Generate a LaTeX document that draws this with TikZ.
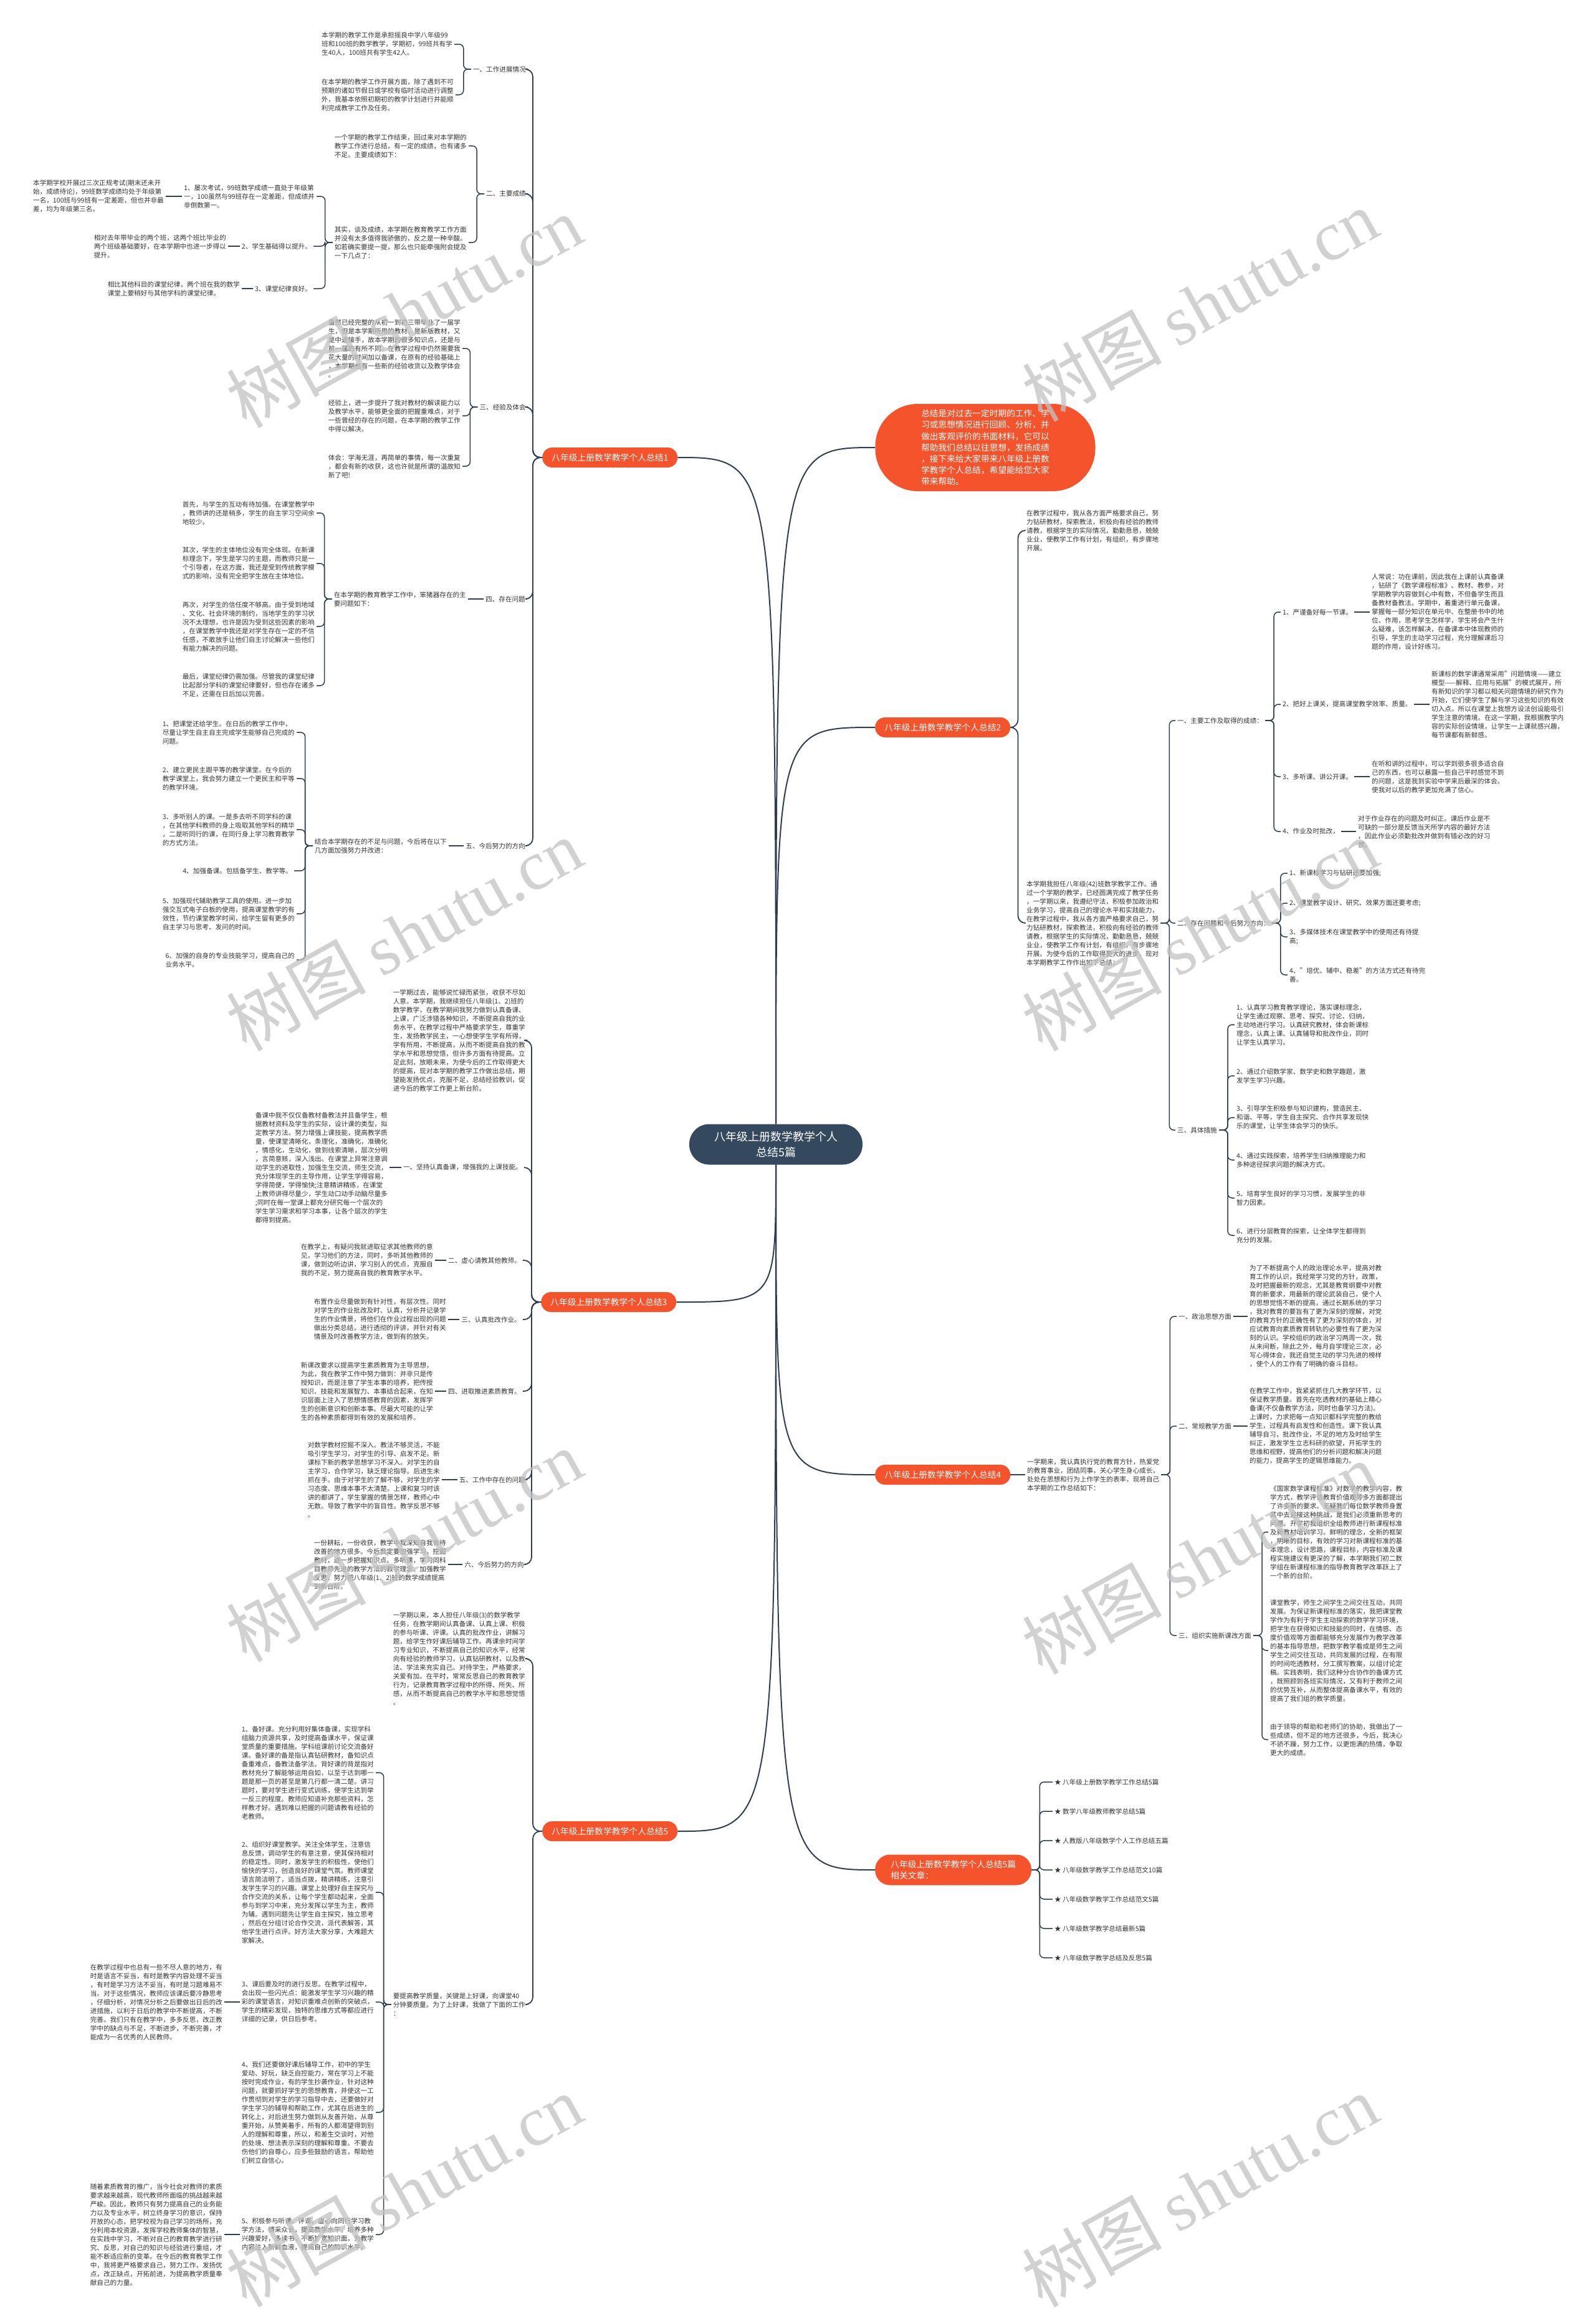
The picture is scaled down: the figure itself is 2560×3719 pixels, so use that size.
\documentclass[tikz,border=0pt]{standalone}
\usepackage{fontspec}
\setmainfont{Noto Sans CJK SC}
\newfontfamily\wmserif{Liberation Serif}
\usetikzlibrary{calc}
\definecolor{linec}{HTML}{2C3E50}
\definecolor{orangec}{HTML}{F4532B}
\definecolor{darkc}{HTML}{34495E}
\definecolor{textc}{HTML}{333333}
\definecolor{wmc}{HTML}{C2C2C2}
\tikzset{
 conn/.style={draw=linec, line width=1.5pt, rounded corners=7pt},
 trunk/.style={draw=linec, line width=1.8pt, rounded corners=12pt},
 mainc/.style={draw=linec, line width=2pt},
 txt/.style={font=\fontsize{10.6}{14}\selectfont, text=textc, align=left, inner xsep=3pt, inner ysep=1pt},
 leftbox/.style={txt, anchor=east},
 rightbox/.style={txt, anchor=west},
 branch/.style={fill=orangec, text=white, font=\fontsize{13.8}{18}\selectfont, align=left, inner xsep=15pt, inner ysep=0pt, minimum height=32pt, rounded corners=16pt, anchor=west},
 wm/.style={text=wmc, text opacity=0.75, font=\fontsize{112}{112}\selectfont, rotate=29, inner sep=0pt}
}
\begin{document}
\begin{tikzpicture}[x=1pt,y=-1pt]
\fill[white] (0,0) rectangle (2560,3719);
\useasboundingbox (0,0) rectangle (2560,3719);

% ---------- center, intro, branches ----------
\node[fill=darkc, text=white, font=\fontsize{18}{25}\selectfont, align=center, minimum width=278pt, minimum height=65pt, rounded corners=32pt, inner sep=0pt] (c0) at (1245,1836) {八年级上册数学教学个人\\总结5篇};
\node[fill=orangec, text=white, font=\fontsize{13.7}{18.2}\selectfont, align=left, minimum width=353pt, minimum height=140pt, rounded corners=68pt, inner sep=0pt] (intro) at (1581,718) {总结是对过去一定时期的工作、学\\习或思想情况进行回顾、分析，并\\做出客观评价的书面材料，它可以\\帮助我们总结以往思想，发扬成绩\\，接下来给大家带来八年级上册数\\学教学个人总结，希望能给您大家\\带来帮助。};
\node[branch] (b1) at (870,734) {八年级上册数学教学个人总结1};
\node[branch] (b3) at (868,2089) {八年级上册数学教学个人总结3};
\node[branch] (b5) at (870,2938) {八年级上册数学教学个人总结5};
\node[branch] (b2) at (1404,1167) {八年级上册数学教学个人总结2};
\node[branch] (b4) at (1404,2366) {八年级上册数学教学个人总结4};
\node[branch, minimum height=49pt, inner xsep=25pt, rounded corners=24pt] (b6) at (1404,3000) {八年级上册数学教学个人总结5篇\\相关文章：};

\draw[mainc] (c0.north) .. controls (1245,734) .. (b1.east);
\draw[mainc] (c0.north) .. controls (1245,718) .. (intro.west);
\draw[mainc] (c0.north) .. controls (1245,1167) .. (b2.west);
\draw[mainc] (c0.south) .. controls (1245,2089) .. (b3.east);
\draw[mainc] (c0.south) .. controls (1245,2366) .. (b4.west);
\draw[mainc] (c0.south) .. controls (1245,2938) .. (b5.east);
\draw[mainc] (c0.south) .. controls (1245,3000) .. (b6.west);

% ---------- branch 1 ----------
\node[leftbox] (h1) at (847,111) {一、工作进展情况};
\node[leftbox] (t1) at (729,71) {本学期的教学工作是承担摇良中学八年级99\\班和100班的数学教学，学期初，99班共有学\\生40人，100班共有学生42人。};
\node[leftbox] (t2) at (731,152) {在本学期的教学工作开展方面，除了遇到不可\\预期的诸如节假日或学校有临时活动进行调整\\外，我基本依照初期初的教学计划进行并能顺\\利完成教学工作及任务。};
\node[leftbox] (h2) at (847,311) {二、主要成绩};
\node[leftbox] (t3) at (752,234) {一个学期的教学工作结束，回过来对本学期的\\教学工作进行总结，有一定的成绩，也有诸多\\不足。主要成绩如下：};
\node[leftbox] (t4) at (752,389) {其实，谈及成绩，本学期在教育教学工作方面\\并没有太多值得我骄傲的，反之是一种辛酸。\\如若确实要提一提，那么也只能牵强附会提及\\一下几点了：};
\node[leftbox] (t4a) at (508,315) {1、屡次考试，99班数学成绩一直处于年级第\\一，100虽然与99班存在一定差距，但成绩并\\非倒数第一。};
\node[leftbox] (t4a1) at (266,315) {本学期学校开展过三次正规考试(期末还未开\\始，成绩待论)，99班数学成绩均处于年级第\\一名，100班与99班有一定差距，但也并非最\\差，均为年级第三名。};
\node[leftbox] (t4b) at (503,395) {2、学生基础得以提升。};
\node[leftbox] (t4b1) at (366,395) {相对去年带毕业的两个班，这两个班比毕业的\\两个班级基础要好，在本学期中也进一步得以\\提升。};
\node[leftbox] (t4c) at (503,463) {3、课堂纪律良好。};
\node[leftbox] (t4c1) at (388,463) {相比其他科目的课堂纪律，两个班在我的数学\\课堂上要稍好与其他学科的课堂纪律。};
\node[leftbox] (h3) at (847,653) {三、经验及体会};
\node[leftbox] (t5) at (742,559) {虽然已经完整的从初一到初三带毕业了一届学\\生，但是本学期所用的教材，是新版教材，又\\是中途接手，故本学期的很多知识点，还是与\\前一届的有所不同。在教学过程中仍然需要我\\花大量的时间加以备课，在原有的经验基础上\\，本学期也有一些新的经验收货以及教学体会\\。};
\node[leftbox] (t6) at (742,667) {经验上，进一步提升了我对教材的解读能力以\\及教学水平，能够更全面的把握重难点，对于\\一些曾经的存在的问题，在本学期的教学工作\\中得以解决。};
\node[leftbox] (t7) at (742,748) {体会：学海无涯，再简单的事情，每一次重复\\，都会有新的收获，这也许就是所谓的温故知\\新了吧!};
\node[leftbox] (h4) at (846,961) {四、存在问题};
\node[leftbox] (t8) at (751,961) {在本学期的教育教学工作中，笨猪器存在的主\\要问题如下：};
\node[leftbox] (t8a) at (508,823) {首先，与学生的互动有待加强。在课堂教学中\\，教师讲的还是稍多，学生的自主学习空间余\\地较少。};
\node[leftbox] (t8b) at (508,904) {其次，学生的主体地位没有完全体现。在新课\\标理念下，学生是学习的主题，而教师只是一\\个引导者，在这方面，我还是受到传统教学模\\式的影响，没有完全把学生放在主体地位。};
\node[leftbox] (t8c) at (508,1005) {再次，对学生的信任度不够高。由于受到地域\\、文化、社会环境的制约，当地学生的学习状\\况不太理想，也许是因为受到这些因素的影响\\，在课堂教学中我还是对学生存在一定的不信\\任感，不敢放手让他们自主讨论解决一些他们\\有能力解决的问题。};
\node[leftbox] (t8d) at (508,1100) {最后，课堂纪律仍需加强。尽管我的课堂纪律\\比起部分学科的课堂纪律要好，但也存在诸多\\不足，还需在日后加以完善。};
\node[leftbox] (h5) at (846,1357) {五、今后努力的方向};
\node[leftbox] (t9) at (720,1357) {结合本学期存在的不足与问题，今后将在以下\\几方面加强努力并改进：};
\node[leftbox] (t9a) at (476,1175) {1、把课堂还给学生。在日后的教学工作中，\\尽量让学生自主自主完成学生能够自己完成的\\问题。};
\node[leftbox] (t9b) at (476,1249) {2、建立更民主跟平等的教学课堂。在今后的\\教学课堂上，我会努力建立一个更民主和平等\\的教学环境。};
\node[leftbox] (t9c) at (476,1331) {3、多听别人的课。一是多去听不同学科的课\\，在其他学科教师的身上吸取其他学科的精华\\，二是听同行的课，在同行身上学习教育教学\\的方式方法。};
\node[leftbox] (t9d) at (472,1397) {4、加强备课。包括备学生、教学等。};
\node[leftbox] (t9e) at (476,1466) {5、加强现代辅助教学工具的使用。进一步加\\强交互式电子白板的使用，提高课堂教学的有\\效性，节约课堂教学时间，给学生留有更多的\\自主学习与思考、发问的时间。};
\node[leftbox] (t9f) at (476,1540) {6、加强的自身的专业技能学习，提高自己的\\业务水平。};

\foreach \n in {h1,h2,h3,h4,h5} \draw[trunk] (b1.west) -- ++(-15,0) |- (\n.east);
\foreach \n in {t1,t2} \draw[conn] (h1.west) -- ++(-12,0) |- (\n.east);
\foreach \n in {t3,t4} \draw[conn] (h2.west) -- ++(-12,0) |- (\n.east);
\foreach \n in {t4a,t4b,t4c} \draw[conn] (t4.west) -- ++(-12,0) |- (\n.east);
\draw[conn] (t4a.west) -- (t4a1.east);
\draw[conn] (t4b.west) -- (t4b1.east);
\draw[conn] (t4c.west) -- (t4c1.east);
\foreach \n in {t5,t6,t7} \draw[conn] (h3.west) -- ++(-12,0) |- (\n.east);
\draw[conn] (h4.west) -- (t8.east);
\foreach \n in {t8a,t8b,t8c,t8d} \draw[conn] (t8.west) -- ++(-12,0) |- (\n.east);
\draw[conn] (h5.west) -- (t9.east);
\foreach \n in {t9a,t9b,t9c,t9d,t9e,t9f} \draw[conn] (t9.west) -- ++(-12,0) |- (\n.east);

% ---------- branch 3 ----------
\node[leftbox] (u0) at (846,1669) {一学期过去，能够说忙碌而紧张，收获不尽如\\人意。本学期，我继续担任八年级(1、2)班的\\数学教学，在教学期间我努力做到认真备课、\\上课，广泛涉猎各种知识，不断提高自我的业\\务水平，在教学过程中严格要求学生，尊重学\\生，发扬教学民主，一心想使学生学有所得，\\学有所用，不断提高，从而不断提高自我的教\\学水平和思想觉悟，但许多方面有待提高。立\\足此刻，放眼未来，为使今后的工作取得更大\\的提高，现对本学期的教学工作做出总结，期\\望能发扬优点，克服不足，总结经验教训，促\\进今后的教学工作更上新台阶。};
\node[leftbox] (u1) at (841,1873) {一、坚持认真备课，增强我的上课技能。};
\node[leftbox] (u1t) at (625,1873) {备课中我不仅仅备教材备教法并且备学生，根\\据教材资料及学生的实际，设计课的类型，拟\\定教学方法。努力增强上课技能，提高教学质\\量，使课堂清晰化，条理化，准确化，准确化\\，情感化，生动化，做到线索清晰，层次分明\\，言简意赅，深入浅出。在课堂上异常注意调\\动学生的进取性，加强生生交流，师生交流，\\充分体现学生的主导作用，让学生学得容易，\\学得简便，学得愉快;注意精讲精练，在课堂\\上教师讲得尽量少，学生动口动手动脑尽量多\\;同时在每一堂课上都充分研究每一个层次的\\学生学习需求和学习本事，让各个层次的学生\\都得到提高。};
\node[leftbox] (u2) at (839,2022) {二、虚心请教其他教师。};
\node[leftbox] (u2t) at (698,2022) {在教学上，有疑问我就进取征求其他教师的意\\见，学习他们的方法，同时，多听其他教师的\\课，做到边听边讲，学习别人的优点，克服自\\我的不足，努力提高自我的教育教学水平。};
\node[leftbox] (u3) at (839,2117) {三、认真批改作业。};
\node[leftbox] (u3t) at (719,2117) {布置作业尽量做到有针对性，有层次性。同时\\对学生的作业批改及时、认真，分析并记录学\\生的作业情景，将他们在作业过程出现的问题\\做出分类总结，进行透彻的评讲，并针对有关\\情景及时改善教学方法，做到有的放矢。};
\node[leftbox] (u4) at (839,2232) {四、进取推进素质教育。};
\node[leftbox] (u4t) at (698,2232) {新课改要求以提高学生素质教育为主导思想，\\为此，我在教学工作中努力做到：并非只是传\\授知识，而是注意了学生本事的培养，把传授\\知识、技能和发展智力、本事结合起来，在知\\识层面上注入了思想情感教育的因素，发挥学\\生的创新意识和创新本事。尽最大可能的让学\\生的各种素质都得到有效的发展和培养。};
\node[leftbox] (u5) at (846,2374) {五、工作中存在的问题};
\node[leftbox] (u5t) at (709,2374) {对数学教材挖掘不深入。教法不够灵活，不能\\吸引学生学习，对学生的引导、启发不足。新\\课标下新的教学思想学习不深入。对学生的自\\主学习，合作学习，缺乏理论指导。后进生未\\抓在手。由于对学生的了解不够，对学生的学\\习态度、思维本事不太清楚。上课和复习时该\\讲的都讲了，学生掌握的情景怎样，教师心中\\无数。导致了教学中的盲目性。教学反思不够\\。};
\node[leftbox] (u6) at (844,2510) {六、今后努力的方向};
\node[leftbox] (u6t) at (719,2510) {一份耕耘，一份收获，教学中我深知自我有待\\改善的地方很多。今后我定要加强学习，挖掘\\教材，进一步把握知识点。多听课，学习同科\\目教师先进的教学方法的教学理念。加强教学\\反思，努力把八年级(1、2)班的数学成绩提高\\到新台阶。};

\foreach \n in {u0,u1,u2,u3,u4,u5,u6} \draw[trunk] (b3.west) -- ++(-15,0) |- (\n.east);
\draw[conn] (u1.west) -- (u1t.east);
\draw[conn] (u2.west) -- (u2t.east);
\draw[conn] (u3.west) -- (u3t.east);
\draw[conn] (u4.west) -- (u4t.east);
\draw[conn] (u5.west) -- (u5t.east);
\draw[conn] (u6.west) -- (u6t.east);

% ---------- branch 5 ----------
\node[leftbox] (v0) at (846,2661) {一学期以来，本人担任八年级(3)的数学教学\\任务，在教学期间认真备课、认真上课、积极\\的参与听课、评课。认真的批改作业，讲解习\\题，给学生作好课后辅导工作。再课余时间学\\习专业知识，不断提高自己的知识水平，经常\\向有经验的教师学习，认真钻研教材，以及教\\法、学法来充实自己。对待学生，严格要求，\\关爱有加。在平时，常常反思自己的教育教学\\行为，记录教育教学过程中的所得、所失、所\\感，从而不断提高自己的教学水平和思想觉悟\\。};
\node[leftbox] (v1) at (846,3216) {要提高教学质量，关键是上好课，向课堂40\\分钟要质量。为了上好课，我做了下面的工作\\：};
\node[leftbox] (w1) at (603,2844) {1、备好课。充分利用好集体备课，实现学科\\组脑力资源共享，及时提高备课水平，保证课\\堂质量的重要措施。学科组课前讨论交流备好\\课。备好课的备是指认真钻研教材，备知识点\\备重难点，备教法备学法。背好课的背是指对\\教材充分了解能够运用自如，以至于达到哪一\\题是那一页的甚至是第几行都一清二楚。讲习\\题时，要对学生进行变式训练，使学生达到举\\一反三的程度。教师应知道补充那些资料，怎\\样教才好。遇到难以把握的问题请教有经验的\\老教师。};
\node[leftbox] (w2) at (603,3036) {2、组织好课堂教学。关注全体学生，注意信\\息反馈，调动学生的有意注意，使其保持相对\\的稳定性。同时，激发学生的积极性，使他们\\愉快的学习，创造良好的课堂气氛。教师课堂\\语言简洁明了，适当点拨，精讲精练，注意引\\发学生学习的兴趣。课堂上处理好自主探究与\\合作交流的关系，让每个学生都动起来，全面\\参与到学习中来，充分发挥以学生为主，教师\\为辅。遇到问题先让学生自主探究，独立思考\\，然后在分组讨论合作交流，派代表解答，其\\他学生进行点评。好方法大家分享，大难题大\\家解决。};
\node[leftbox] (w3) at (603,3212) {3、课后要及时的进行反思。在教学过程中，\\会出现一些闪光点：能激发学生学习兴趣的精\\彩的课堂语言，对知识重难点创新的突破点，\\学生的精彩发现，独特的思维方式等都应进行\\详细的记录，供日后参考。};
\node[leftbox] (w3x) at (360,3212) {在教学过程中也总有一些不尽人意的地方，有\\时是语言不妥当，有时是教学内容处理不妥当\\，有时是学习方法不妥当，有时是习题难易不\\当。对于这些情况，教师应该课后要冷静思考\\，仔细分析，对情况分析之后要做出日后的改\\进措施，以利于日后的教学中不断提高，不断\\完善。我们只有在教学中，多多反思，改正教\\学中的缺点与不足，不断进步，不断完善，才\\能成为一名优秀的人民教师。};
\node[leftbox] (w4) at (603,3389) {4、我们还要做好课后辅导工作，初中的学生\\爱动、好玩，缺乏自控能力，常在学习上不能\\按时完成作业，有的学生抄袭作业，针对这种\\问题，就要抓好学生的思想教育，并使这一工\\作贯彻到对学生的学习指导中去，还要做好对\\学生学习的辅导和帮助工作，尤其在后进生的\\转化上，对后进生努力做到从友善开始，从尊\\重开始，从赞美着手，所有的人都渴望得到别\\人的理解和尊重，所以，和差生交谈时，对他\\的处境、想法表示深刻的理解和尊重。不要去\\伤他们的自尊心，应多些鼓励的语言，帮助他\\们树立自信心。};
\node[leftbox] (w5) at (603,3585) {5、积极参与听课、评课，虚心向同行学习教\\学方法，博采众长，提高教学水平。培养多种\\兴趣爱好，多读书，不断扩宽知识面，为教学\\内容注入新鲜血液，提高自己的知识水平。};
\node[leftbox] (w5x) at (360,3585) {随着素质教育的推广，当今社会对教师的素质\\要求越来越高，现代教师所面临的挑战越来越\\严峻。因此，教师只有努力提高自己的业务能\\力以及专业水平，树立终身学习的意识，保持\\开放的心态，把学校视为自己学习的场所，充\\分利用本校资源，发挥学校教师集体的智慧，\\在实践中学习，不断对自己的教育教学进行研\\究、反思，对自己的知识与经验进行重组，才\\能不断适应新的变革。在今后的教育教学工作\\中，我将更严格要求自己，努力工作，发扬优\\点，改正缺点，开拓前进，为提高教学质量奉\\献自己的力量。};

\foreach \n in {v0,v1} \draw[trunk] (b5.west) -- ++(-15,0) |- (\n.east);
\foreach \n in {w1,w2,w3,w4,w5} \draw[conn] (v1.west) -- ++(-12,0) |- (\n.east);
\draw[conn] (w3.west) -- (w3x.east);
\draw[conn] (w5.west) -- (w5x.east);

% ---------- branch 2 ----------
\node[rightbox] (ta) at (1644,851) {在教学过程中，我从各方面严格要求自己，努\\力钻研教材，探索教法，积极向有经验的教师\\请教，根据学生的实际情况，勤勤恳恳，兢兢\\业业，使教学工作有计划，有组织，有步骤地\\开展。};
\node[rightbox] (tb) at (1644,1481) {本学期我担任八年级(42)班数学教学工作。通\\过一个学期的教学，已经圆满完成了教学任务\\，一学期以来，我遵纪守法，积极参加政治和\\业务学习，提高自己的理论水平和实践能力，\\在教学过程中，我从各方面严格要求自己，努\\力钻研教材，探索教法，积极向有经验的教师\\请教，根据学生的实际情况，勤勤恳恳，兢兢\\业业，使教学工作有计划，有组织，有步骤地\\开展。为使今后的工作取得更大的进步，现对\\本学期教学工作作出如下总结：};
\foreach \n in {ta,tb} \draw[trunk] (b2.east) -- ++(12,0) |- (\n.west);
\node[rightbox] (g1) at (1886,1156) {一、主要工作及取得的成绩：};
\node[rightbox] (g2) at (1886,1481) {二、存在问题和今后努力方向：};
\node[rightbox] (g3) at (1886,1813) {三、具体措施};
\foreach \n in {g1,g2,g3} \draw[conn] (tb.east) -- ++(14,0) |- (\n.west);

\node[rightbox] (k1) at (2055,982) {1、严谨备好每一节课。};
\node[rightbox] (k1t) at (2198,982) {人常说：功在课前，因此我在上课前认真备课\\，钻研了《数学课程标准》、教材、教参，对\\学期教学内容做到心中有数，不但备学生而且\\备教材备教法。学期中，着重进行单元备课，\\掌握每一部分知识在单元中、在整册书中的地\\位、作用，思考学生怎样学，学生将会产生什\\么疑难，该怎样解决，在备课本中体现教师的\\引导，学生的主动学习过程，充分理解课后习\\题的作用，设计好练习。};
\node[rightbox] (k2) at (2055,1130) {2、把好上课关，提高课堂教学效率、质量。};
\node[rightbox] (k2t) at (2294,1130) {新课标的数学课通常采用"问题情境——建立\\模型——解释、应用与拓展"的模式展开，所\\有新知识的学习都以相关问题情境的研究作为\\开始，它们使学生了解与学习这些知识的有效\\切入点。所以在课堂上我想方设法创设能吸引\\学生注意的情境。在这一学期，我根据教学内\\容的实际创设情境，让学生一上课就感兴趣，\\每节课都有新鲜感。};
\node[rightbox] (k3) at (2055,1246) {3、多听课、讲公开课。};
\node[rightbox] (k3t) at (2198,1246) {在听和讲的过程中，可以学到很多很多适合自\\己的东西，也可以暴露一些自己平时感觉不到\\的问题，这是我到实验中学来后最深的体会。\\使我对以后的教学更加充满了信心。};
\node[rightbox] (k4) at (2055,1334) {4、作业及时批改，};
\node[rightbox] (k4t) at (2176,1334) {对于作业存在的问题及时纠正。课后作业是不\\可缺的一部分是反馈当天所学内容的最好方法\\，因此作业必须勤批改并做到有错必改的好习\\惯。};
\foreach \n in {k1,k2,k3,k4} \draw[conn] (g1.east) -- ++(14,0) |- (\n.west);
\draw[conn] (k1.east) -- (k1t.west);
\draw[conn] (k2.east) -- (k2t.west);
\draw[conn] (k3.east) -- (k3t.west);
\draw[conn] (k4.east) -- (k4t.west);

\node[rightbox] (p1) at (2066,1401) {1、新课标学习与钻研还要加强;};
\node[rightbox] (p2) at (2066,1449) {2、课堂教学设计、研究、效果方面还要考虑;};
\node[rightbox] (p3) at (2066,1503) {3、多媒体技术在课堂教学中的使用还有待提\\高;};
\node[rightbox] (p4) at (2066,1564) {4、"培优、辅中、稳差"的方法方式还有待完\\善。};
\foreach \n in {p1,p2,p3,p4} \draw[conn] (g2.east) -- ++(14,0) |- (\n.west);

\node[rightbox] (m1) at (1981,1644) {1、认真学习教育教学理论，落实课标理念，\\让学生通过观察、思考、探究、讨论、归纳，\\主动地进行学习。认真研究教材，体会新课标\\理念，认真上课、认真辅导和批改作业，同时\\让学生认真学习。};
\node[rightbox] (m2) at (1981,1726) {2、通过介绍数学家、数学史和数学趣题，激\\发学生学习兴趣。};
\node[rightbox] (m3) at (1981,1793) {3、引导学生积极参与知识建构，营造民主、\\和谐、平等，学生自主探究、合作共享发现快\\乐的课堂，让学生体会学习的快乐。};
\node[rightbox] (m4) at (1981,1861) {4、通过实践探索，培养学生归纳推理能力和\\多种途径探求问题的解决方式。};
\node[rightbox] (m5) at (1981,1922) {5、培育学生良好的学习习惯，发展学生的非\\智力因素。};
\node[rightbox] (m6) at (1981,1982) {6、进行分层教育的探索，让全体学生都得到\\充分的发展。};
\foreach \n in {m1,m2,m3,m4,m5,m6} \draw[conn] (g3.east) -- ++(14,0) |- (\n.west);

% ---------- branch 4 ----------
\node[rightbox] (tb4) at (1645,2366) {一学期来，我认真执行党的教育方针，热爱党\\的教育事业，团结同事，关心学生身心成长，\\处处在思想和行为上作学生的表率，现将自己\\本学期的工作总结如下：};
\draw[conn] (b4.east) -- (tb4.west);
\node[rightbox] (f1) at (1888,2112) {一、政治思想方面};
\node[rightbox] (f1t) at (2002,2112) {为了不断提高个人的政治理论水平，提高对教\\育工作的认识，我经常学习党的方针，政策，\\及时把握最新的观念，尤其是教育纲要中对教\\育的新要求，用最新的理论武装自己，使个人\\的思想觉悟不断的提高，通过长期系统的学习\\，我对教育的要旨有了更为深刻的理解，对党\\的教育方针的正确性有了更为深刻的体会，对\\应试教育向素质教育转轨的必要性有了更为深\\刻的认识。学校组织的政治学习两周一次，我\\从未间断，除此之外，每月自学理论三次，必\\写心得体会，我还自觉主动的学习先进的榜样\\，使个人的工作有了明确的奋斗目标。};
\node[rightbox] (f2) at (1888,2288) {二、常规教学方面};
\node[rightbox] (f2t) at (2002,2288) {在教学工作中，我紧紧抓住几大教学环节，以\\保证教学质量。首先在吃透教材的基础上精心\\备课(不仅备教学方法，同时也备学习方法)。\\上课时，力求把每一点知识都科学完整的教给\\学生，过程具有启发性和创造性。课下我认真\\辅导自习，批改作业，不足的地方及时给学生\\纠正，激发学生立志科研的欲望，开拓学生的\\思维和视野，提高他们的分析问题和解决问题\\的能力，提高学生的逻辑思维能力。};
\node[rightbox] (f3) at (1888,2624) {三、组织实施新课改方面};
\foreach \n in {f1,f2,f3} \draw[conn] (tb4.east) -- ++(14,0) |- (\n.west);
\draw[conn] (f1.east) -- (f1t.west);
\draw[conn] (f2.east) -- (f2t.west);
\node[rightbox] (n1) at (2035,2458) {《国家数学课程标准》对数学的教学内容，教\\学方式，教学评估教育价值观等多方面都提出\\了许多新的要求。无疑我们每位数学教师身置\\其中去迎接这种挑战，是我们必须重新思考的\\问题。开学初我组织全组教师进行新课程标准\\及新教材培训学习。鲜明的理念，全新的框架\\，明晰的目标，有效的学习对新课程标准的基\\本理念，设计思路，课程目标，内容标准及课\\程实施建议有更深的了解，本学期我们初二数\\学组在新课程标准的指导教育教学改革跃上了\\一个新的台阶。};
\node[rightbox] (n2) at (2035,2648) {课堂教学，师生之间学生之间交往互动，共同\\发展。为保证新课程标准的落实，我把课堂教\\学作为有利于学生主动探索的数学学习环境，\\把学生在获得知识和技能的同时，在情感、态\\度价值观等方面都能够充分发展作为教学改革\\的基本指导思想，把数学教学看成是师生之间\\学生之间交往互动，共同发展的过程，在有限\\的时间吃透教材，分工撰写教案，以组讨论定\\稿。实践表明，我们这种分合协作的备课方式\\，既照顾到各班实际情况，又有利于教师之间\\的优势互补，从而整体提高备课水平，有效的\\提高了我们组的教学质量。};
\node[rightbox] (n3) at (2035,2791) {由于领导的帮助和老师们的协助，我做出了一\\些成绩，但不足的地方还很多，今后，我决心\\不骄不躁，努力工作，以更饱满的热情，争取\\更大的成绩。};
\foreach \n in {n1,n2,n3} \draw[conn] (f3.east) -- ++(14,0) |- (\n.west);

% ---------- branch 6 ----------
\node[rightbox] (s1) at (1689,2859) {★ 八年级上册数学教学工作总结5篇};
\node[rightbox] (s2) at (1689,2906) {★ 数学八年级教师教学总结5篇};
\node[rightbox] (s3) at (1689,2953) {★ 人教版八年级数学个人工作总结五篇};
\node[rightbox] (s4) at (1689,3000) {★ 八年级数学教学工作总结范文10篇};
\node[rightbox] (s5) at (1689,3047) {★ 八年级数学教学工作总结范文5篇};
\node[rightbox] (s6) at (1689,3094) {★ 八年级数学教学总结最新5篇};
\node[rightbox] (s7) at (1689,3141) {★ 八年级数学教学总结及反思5篇};
\foreach \n in {s1,s2,s3,s4,s5,s6,s7} \draw[conn] (b6.east) -- ++(13,0) |- (\n.west);

% ---------- watermarks ----------
\node[wm] (wm1) at (648,500) {树图 {\wmserif shutu.cn}};
\node[wm] (wm2) at (1925,490) {树图 {\wmserif shutu.cn}};
\node[wm] (wm3) at (648,1500) {树图 {\wmserif shutu.cn}};
\node[wm] (wm4) at (1925,1500) {树图 {\wmserif shutu.cn}};
\node[wm] (wm5) at (648,2480) {树图 {\wmserif shutu.cn}};
\node[wm] (wm6) at (1925,2500) {树图 {\wmserif shutu.cn}};
\node[wm] (wm7) at (648,3515) {树图 {\wmserif shutu.cn}};
\node[wm] (wm8) at (1925,3515) {树图 {\wmserif shutu.cn}};
\end{tikzpicture}
\end{document}
